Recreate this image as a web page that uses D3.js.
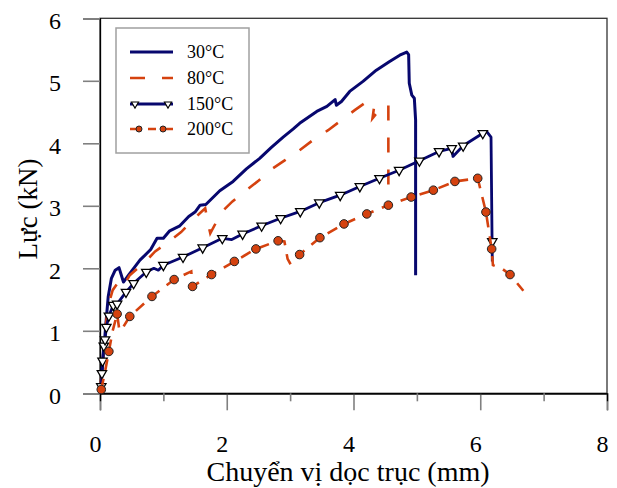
<!DOCTYPE html>
<html><head><meta charset="utf-8">
<script src="https://cdn.jsdelivr.net/npm/d3@7"></script>
<style>
html,body{margin:0;padding:0;background:#fff;}
svg{display:block;font-family:"Liberation Serif","Times New Roman",serif;}
</style></head>
<body>
<svg id="chart" width="617" height="488"></svg>
<script>
// ---- data (x: displacement mm, y: force kN) ----
const xTicks = [0,1,2,3,4,5,6,7,8];
const yTicks = [0,1,2,3,4,5,6];
const seriesNames = ["30°C","80°C","150°C","200°C"];
const xTitle = "Chuyển vị dọc trục (mm)";
const yTitle = "Lực (kN)";

const line30 = [[0,0],[0.03,0.3],[0.06,0.7],[0.1,1.2],[0.13,1.55],[0.18,1.84],[0.24,1.97],[0.30,2.01],[0.37,1.78],[0.45,1.89],[0.63,2.13],[0.8,2.3],[0.9,2.48],[1.0,2.48],[1.1,2.6],[1.26,2.68],[1.4,2.83],[1.5,2.9],[1.58,3.01],[1.67,3.02],[1.89,3.24],[2.10,3.39],[2.31,3.59],[2.52,3.76],[2.7,3.93],[2.89,4.1],[3.05,4.23],[3.15,4.32],[3.42,4.51],[3.58,4.59],[3.71,4.70],[3.73,4.61],[3.81,4.67],[3.94,4.83],[4.15,4.99],[4.36,5.17],[4.57,5.31],[4.73,5.41],[4.84,5.46],[4.87,5.42],[4.88,4.96],[4.92,4.77],[4.96,4.72],[4.98,4.37],[4.98,1.89]];

const line80 = [[0,0],[0.04,0.5],[0.08,1.0],[0.13,1.4],[0.2,1.65],[0.27,1.75],[0.32,1.68],[0.37,1.72],[0.47,1.89],[0.71,2.1],[0.87,2.27],[1.09,2.43],[1.28,2.58],[1.47,2.78],[1.66,2.96],[1.71,2.69],[1.74,2.56],[1.92,2.9],[2.09,3.07],[2.31,3.25],[2.5,3.4],[2.73,3.6],[2.92,3.73],[3.15,3.89],[3.36,4.05],[3.6,4.21],[3.81,4.37],[4.02,4.53],[4.23,4.68],[4.33,4.62],[4.30,4.40],[4.42,4.55],[4.55,4.62],[4.55,3.0]];

const line150 = [[0,0],[0.02,0.11],[0.03,0.32],[0.04,0.52],[0.06,0.76],[0.08,0.86],[0.1,1.06],[0.14,1.24],[0.21,1.41],[0.27,1.43],[0.41,1.62],[0.53,1.76],[0.73,1.94],[0.85,2.0],[0.92,1.97],[1.0,2.05],[1.31,2.18],[1.62,2.33],[1.93,2.48],[2.08,2.46],[2.25,2.55],[2.55,2.68],[2.85,2.8],[3.16,2.91],[3.46,3.05],[3.79,3.17],[4.10,3.31],[4.41,3.44],[4.72,3.57],[5.04,3.72],[5.35,3.87],[5.55,3.92],[5.57,3.79],[5.73,3.96],[6.04,4.16],[6.10,4.19],[6.17,4.10],[6.19,2.11]];
const marks150 = [[0.02,0.11],[0.03,0.32],[0.04,0.52],[0.06,0.76],[0.08,0.86],[0.1,1.06],[0.14,1.24],[0.21,1.41],[0.27,1.43],[0.41,1.62],[0.53,1.76],[0.73,1.94],[1.0,2.05],[1.31,2.18],[1.62,2.33],[1.93,2.48],[2.25,2.55],[2.55,2.68],[2.85,2.8],[3.16,2.91],[3.46,3.05],[3.79,3.17],[4.10,3.31],[4.41,3.44],[4.72,3.57],[5.04,3.72],[5.35,3.87],[5.55,3.92],[5.73,3.96],[6.04,4.16],[6.19,2.43]];

const line200 = [[0.02,0.06],[0.08,0.35],[0.14,0.67],[0.2,1.0],[0.27,1.27],[0.3,1.05],[0.33,1.0],[0.47,1.23],[0.82,1.55],[1.17,1.82],[1.44,1.95],[1.46,1.71],[1.76,1.9],[2.12,2.11],[2.46,2.31],[2.81,2.44],[2.91,2.43],[2.96,2.15],[3.01,2.06],[3.15,2.22],[3.47,2.49],[3.85,2.71],[4.21,2.87],[4.55,3.01],[4.91,3.14],[5.26,3.25],[5.60,3.39],[5.96,3.44],[6.09,2.90],[6.18,2.31],[6.2,2.05],[6.35,1.99],[6.47,1.90],[6.68,1.64]];
const marks200 = [[0.02,0.06],[0.14,0.67],[0.27,1.27],[0.47,1.23],[0.82,1.55],[1.17,1.82],[1.46,1.71],[1.76,1.9],[2.12,2.11],[2.46,2.31],[2.81,2.44],[3.15,2.22],[3.47,2.49],[3.85,2.71],[4.21,2.87],[4.55,3.01],[4.91,3.14],[5.26,3.25],[5.60,3.39],[5.96,3.44],[6.09,2.90],[6.18,2.31],[6.47,1.90]];

// ---- layout ----
const NAVY = "#07076e", ORANGE = "#d5420f";
const svg = d3.select("#chart");
const L = 100, R = 607, T = 18.3, B = 393.3;
const x = d3.scaleLinear().domain([0,8]).range([L,R]);
const y = d3.scaleLinear().domain([0,6]).range([B,T]);

// frame
svg.append("rect").attr("x",L).attr("y",T).attr("width",R-L).attr("height",B-T)
  .attr("fill","none").attr("stroke","#333").attr("stroke-width",1.3);

// axes
const gx = svg.append("g").attr("transform",`translate(0,${B})`)
  .call(d3.axisBottom(x).tickValues(xTicks.filter(d=>d%2===0)).tickSize(17).tickFormat(d3.format("d")));
const gx2 = svg.append("g").attr("transform",`translate(0,${B})`)
  .call(d3.axisBottom(x).tickValues(xTicks.filter(d=>d%2===1)).tickSize(8).tickFormat(""));
const gy = svg.append("g").attr("transform",`translate(${L},0)`)
  .call(d3.axisLeft(y).tickValues(yTicks).tickSize(17).tickFormat(d3.format("d")));
[gx,gx2,gy].forEach(g=>{
  g.select(".domain").attr("stroke","#000").attr("stroke-width",1.3);
  g.selectAll(".tick line").attr("stroke","#808080").attr("stroke-width",1.6);
  g.selectAll(".tick text").attr("fill","#000").attr("font-size",24)
   .attr("font-family","Liberation Serif, Times New Roman, serif");
});
gx.selectAll(".tick text").attr("y",58.7).attr("dy",null).attr("x",-5);
gy.selectAll(".tick text").attr("x",-39).attr("dy",null).attr("y",10);

// titles
svg.append("text").attr("x",348).attr("y",481).attr("text-anchor","middle")
  .attr("font-size",28).text(xTitle);
svg.append("text").attr("transform","translate(37,209) rotate(-90)").attr("text-anchor","middle")
  .attr("font-size",27).text(yTitle);

// series
const lineGen = d3.line().x(d=>x(d[0])).y(d=>y(d[1]));
const plot = svg.append("g");
plot.append("path").datum(line30).attr("d",lineGen).attr("fill","none")
  .attr("stroke",NAVY).attr("stroke-width",3).attr("stroke-linejoin","round");
plot.append("path").datum(line80).attr("d",lineGen).attr("fill","none")
  .attr("stroke",ORANGE).attr("stroke-width",2.6).attr("stroke-dasharray","15,17");
plot.append("path").datum(line150).attr("d",lineGen).attr("fill","none")
  .attr("stroke",NAVY).attr("stroke-width",2.8).attr("stroke-linejoin","round");
const tri = d3.symbol().type(d3.symbolTriangle);
plot.selectAll(".m150").data(marks150).join("path").attr("class","m150")
  .attr("d",tri.size(38)())
  .attr("transform",d=>`translate(${x(d[0])},${y(d[1])}) rotate(180)`)
  .attr("fill","#fff").attr("stroke","#000").attr("stroke-width",1.3);
plot.append("path").datum(line200).attr("d",lineGen).attr("fill","none")
  .attr("stroke",ORANGE).attr("stroke-width",2.6).attr("stroke-dasharray","11,9");
plot.selectAll(".m200").data(marks200).join("circle").attr("class","m200")
  .attr("cx",d=>x(d[0])).attr("cy",d=>y(d[1])).attr("r",4.3)
  .attr("fill",ORANGE).attr("stroke","#222").attr("stroke-width",1);

// legend
const lg = svg.append("g");
lg.append("rect").attr("x",116).attr("y",28).attr("width",133).attr("height",125)
  .attr("fill","#fff").attr("stroke","#a0a0a0").attr("stroke-width",1.5);
const rows = [52,78,104,129];
const styles = [
  {c:NAVY,w:3,dash:null},
  {c:ORANGE,w:2.6,dash:"15,17"},
  {c:NAVY,w:2.8,dash:null},
  {c:ORANGE,w:2.6,dash:"8,10"}
];
seriesNames.forEach((n,i)=>{
  const yy = rows[i];
  lg.append("line").attr("x1",130).attr("x2",173).attr("y1",yy).attr("y2",yy)
    .attr("stroke",styles[i].c).attr("stroke-width",styles[i].w)
    .attr("stroke-dasharray",styles[i].dash);
  lg.append("text").attr("x",187).attr("y",yy+6).attr("font-size",18).text(n);
});
[135,168].forEach(xx=>{
  lg.append("path").attr("d",d3.symbol().type(d3.symbolTriangle).size(22)())
    .attr("transform",`translate(${xx},${rows[2]}) rotate(180)`)
    .attr("fill","#fff").attr("stroke","#000").attr("stroke-width",1.1);
});
[139,163].forEach(xx=>{
  lg.append("circle").attr("cx",xx).attr("cy",rows[3]).attr("r",3)
    .attr("fill",ORANGE).attr("stroke","#222").attr("stroke-width",1);
});
</script>
</body></html>
